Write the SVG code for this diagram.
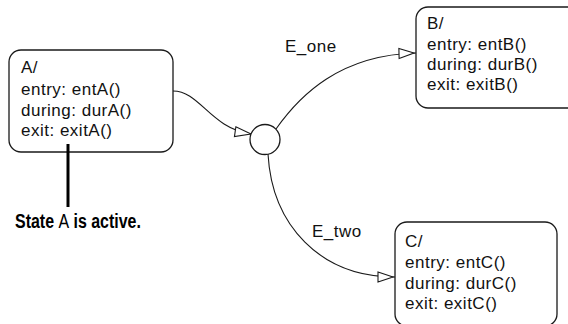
<svg xmlns="http://www.w3.org/2000/svg" width="568" height="324" viewBox="0 0 568 324">
  <style>
    .box { fill: #ffffff; stroke: #1a1a1a; stroke-width: 1.3; }
    .lbl { font-family: "Liberation Sans", Arial, sans-serif; font-size: 17px; fill: #111111; letter-spacing: 0.5px; }
    .conn { fill: none; stroke: #1a1a1a; stroke-width: 1.1; }
    .callout { fill: none; stroke: #000000; stroke-width: 3; }
    .note { font-family: "Liberation Sans", Arial, sans-serif; font-size: 21px; font-weight: bold; fill: #000000; }
  </style>
  <defs>
    <marker id="openArrow" markerUnits="userSpaceOnUse" markerWidth="24" markerHeight="14" viewBox="-20 -7 24 14" refX="0" refY="0" orient="auto">
      <path d="M-2,0 L-17,-5 L-17,5 Z" fill="#ffffff" stroke="#1a1a1a" stroke-width="1.1"/>
    </marker>
    <marker id="openArrowTip" markerUnits="userSpaceOnUse" markerWidth="24" markerHeight="14" viewBox="-20 -7 24 14" refX="0" refY="0" orient="auto">
      <path d="M0,0 L-16,-5 L-16,5 Z" fill="#ffffff" stroke="#1a1a1a" stroke-width="1.1"/>
    </marker>
  </defs>
  <rect width="568" height="324" fill="#ffffff"/>

  <g id="connectors">
    <path id="A_to_junction" class="conn" d="M173,91 C200,91 210,128 251,134" marker-end="url(#openArrowTip)"/>
    <path id="E_one_transition" class="conn" d="M276,129 C300,95 340,55 416,53" marker-end="url(#openArrow)"/>
    <path id="E_two_transition" class="conn" d="M268,154 C272,225 320,277 395,277" marker-end="url(#openArrow)"/>
    <text class="lbl" x="285" y="52">E_one</text>
    <text class="lbl" x="312" y="237">E_two</text>
  </g>

  <g id="stateA">
    <rect class="box" x="9" y="50" width="164" height="102" rx="12" ry="12"/>
    <text class="lbl" x="21" y="73">A/</text>
    <text class="lbl" x="21" y="95">entry: entA()</text>
    <text class="lbl" x="21" y="116">during: durA()</text>
    <text class="lbl" x="21" y="136">exit: exitA()</text>
  </g>

  <g id="junction">
    <circle cx="265" cy="139.5" r="15" fill="#ffffff" stroke="#1a1a1a" stroke-width="1.3"/>
  </g>

  <g id="stateB">
    <rect class="box" x="416" y="7" width="164" height="101" rx="12" ry="12"/>
    <text class="lbl" x="427" y="29">B/</text>
    <text class="lbl" x="427" y="50">entry: entB()</text>
    <text class="lbl" x="427" y="70">during: durB()</text>
    <text class="lbl" x="427" y="90">exit: exitB()</text>
  </g>

  <g id="stateC">
    <rect class="box" x="395" y="222" width="162" height="104" rx="12" ry="12"/>
    <text class="lbl" x="405" y="247">C/</text>
    <text class="lbl" x="405" y="268">entry: entC()</text>
    <text class="lbl" x="405" y="289">during: durC()</text>
    <text class="lbl" x="405" y="309">exit: exitC()</text>
  </g>

  <g id="annotation">
    <line class="callout" x1="68" y1="144" x2="68" y2="207"/>
    <text class="note" transform="translate(15,228) scale(0.76,1)" x="0" y="0">State <tspan font-weight="normal">A</tspan> is active.</text>
  </g>
</svg>
